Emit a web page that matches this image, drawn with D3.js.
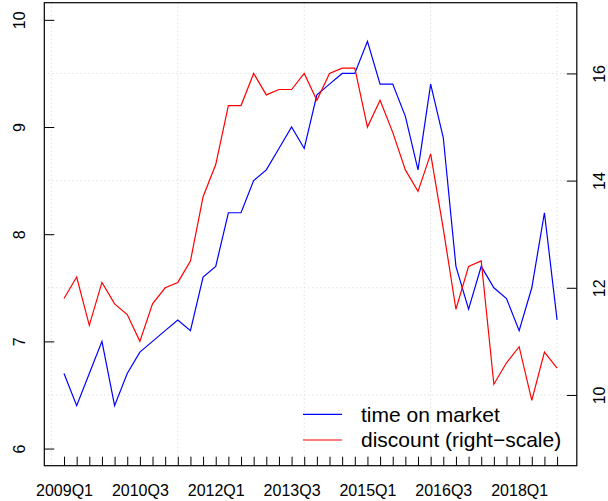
<!DOCTYPE html>
<html lang="en">
<head>
    <meta charset="UTF-8">
    <title>Time on market vs discount</title>
    <script src="https://d3js.org/d3.v7.min.js"></script>
    <style>
        body {
            margin: 0;
            background: #fff;
        }
        svg {
            display: block;
            font-family: "Liberation Sans", Arial, sans-serif;
        }
        .grid line {
            stroke: #d3d3d3;
            stroke-dasharray: 1 3;
        }
        .line {
            fill: none;
            stroke-width: 1.2px;
        }
    </style>
</head>
<body>
    <svg width="608" height="501"></svg>
    <script>
        // quarter labels, one per point
        const quarters = [
            "2009Q1","2009Q2","2009Q3","2009Q4","2010Q1","2010Q2","2010Q3","2010Q4",
            "2011Q1","2011Q2","2011Q3","2011Q4","2012Q1","2012Q2","2012Q3","2012Q4",
            "2013Q1","2013Q2","2013Q3","2013Q4","2014Q1","2014Q2","2014Q3","2014Q4",
            "2015Q1","2015Q2","2015Q3","2015Q4","2016Q1","2016Q2","2016Q3","2016Q4",
            "2017Q1","2017Q2","2017Q3","2017Q4","2018Q1","2018Q2","2018Q3","2018Q4"
        ];
        const timeOnMarket = [
            6.7, 6.4, 6.7, 7.0, 6.4, 6.7, 6.9, 7.0, 7.1, 7.2,
            7.1, 7.6, 7.7, 8.2, 8.2, 8.5, 8.6, 8.8, 9.0, 8.8,
            9.3, 9.4, 9.5, 9.5, 9.8, 9.4, 9.4, 9.1, 8.6, 9.4,
            8.9, 7.7, 7.3, 7.7, 7.5, 7.4, 7.1, 7.5, 8.2, 7.2
        ];
        const discount = [
            11.8, 12.2, 11.3, 12.1, 11.7, 11.5, 11.0, 11.7, 12.0, 12.1,
            12.5, 13.7, 14.3, 15.4, 15.4, 16.0, 15.6, 15.7, 15.7, 16.0,
            15.5, 16.0, 16.1, 16.1, 15.0, 15.5, 14.9, 14.2, 13.8, 14.5,
            13.1, 11.6, 12.4, 12.5, 10.2, 10.6, 10.9, 9.9, 10.8, 10.5
        ];
        const leftTicks = [6, 7, 8, 9, 10];
        const rightTicks = [10, 12, 14, 16];
        const gridX = [0, 10, 20, 30, 40];
        const labelEvery = 6;
        const seriesNames = ["time on market", "discount (right\u2212scale)"];
        const seriesColors = ["#0000ff", "#ff0000"];

        const svg = d3.select("svg"),
            plot = {left: 44.3, right: 576.8, top: 2.7, bottom: 465.7};

        const idx = quarters.map((q, i) => i + 1);

        const x = d3.scaleLinear().domain([-0.56, 41.56]).range([plot.left, plot.right]);
        const yL = d3.scaleLinear().domain([5.84, 10.16]).range([plot.bottom, plot.top]);
        const yR = d3.scaleLinear().domain([8.68, 17.32]).range([plot.bottom, plot.top]);

        // dotted grid (drawn on the second plot's coordinates)
        const grid = svg.append("g").attr("class", "grid");
        grid.selectAll(".gx").data(gridX).enter().append("line")
            .attr("x1", d => x(d)).attr("x2", d => x(d))
            .attr("y1", plot.top).attr("y2", plot.bottom);
        grid.selectAll(".gy").data(rightTicks).enter().append("line")
            .attr("x1", plot.left).attr("x2", plot.right)
            .attr("y1", d => yR(d)).attr("y2", d => yR(d));

        // lines
        const lineL = d3.line().x((d, i) => x(idx[i])).y(d => yL(d));
        const lineR = d3.line().x((d, i) => x(idx[i])).y(d => yR(d));

        svg.append("path").datum(timeOnMarket)
            .attr("class", "line").style("stroke", seriesColors[0]).attr("d", lineL);
        svg.append("path").datum(discount)
            .attr("class", "line").style("stroke", seriesColors[1]).attr("d", lineR);

        // box
        svg.append("rect")
            .attr("x", plot.left).attr("y", plot.top)
            .attr("width", plot.right - plot.left).attr("height", plot.bottom - plot.top)
            .attr("fill", "none").attr("stroke", "#000").attr("stroke-width", 1.2);

        // left axis, ticks inward, labels rotated
        const axL = d3.axisLeft(yL).tickValues(leftTicks).tickFormat(d3.format("d"))
            .tickSizeInner(-10).tickSizeOuter(0).tickPadding(0);
        const gL = svg.append("g").attr("transform", `translate(${plot.left},0)`).call(axL);
        gL.select(".domain").remove();
        gL.selectAll(".tick line").attr("stroke", "#000");
        gL.selectAll(".tick text")
            .attr("x", null).attr("dy", null)
            .attr("font-size", 16).attr("font-family", "Liberation Sans, Arial, sans-serif")
            .attr("text-anchor", "middle")
            .attr("transform", "translate(-25,0) rotate(-90)")
            .attr("y", 0).attr("dy", "0.35em").attr("fill", "#000");

        // right axis
        const axR = d3.axisRight(yR).tickValues(rightTicks).tickFormat(d3.format("d"))
            .tickSizeInner(-10).tickSizeOuter(0).tickPadding(0);
        const gR = svg.append("g").attr("transform", `translate(${plot.right},0)`).call(axR);
        gR.select(".domain").remove();
        gR.selectAll(".tick line").attr("stroke", "#000");
        gR.selectAll(".tick text")
            .attr("x", null).attr("dy", null)
            .attr("font-size", 16).attr("font-family", "Liberation Sans, Arial, sans-serif")
            .attr("text-anchor", "middle")
            .attr("transform", "translate(23,0) rotate(-90)")
            .attr("y", 0).attr("dy", "0.35em").attr("fill", "#000");

        // bottom axis: a tick per quarter, label every 6th
        const axB = d3.axisBottom(x).tickValues(idx).tickSizeInner(-9).tickSizeOuter(0).tickPadding(0)
            .tickFormat(d => (d - 1) % labelEvery === 0 ? quarters[d - 1] : "");
        const gB = svg.append("g").attr("transform", `translate(0,${plot.bottom})`).call(axB);
        gB.select(".domain").remove();
        gB.selectAll(".tick line").attr("stroke", "#000");
        gB.selectAll(".tick text")
            .attr("y", 25).attr("dy", "0.35em")
            .attr("font-size", 16).attr("font-family", "Liberation Sans, Arial, sans-serif")
            .attr("fill", "#000");

        // legend (no box)
        const legend = svg.append("g").selectAll("g")
            .data(seriesNames)
            .enter().append("g")
            .attr("transform", (d, i) => `translate(303,${414.3 + i * 25.7})`);
        legend.append("line")
            .attr("x1", 0).attr("x2", 39)
            .attr("stroke", (d, i) => seriesColors[i]).attr("stroke-width", 1.2);
        legend.append("text")
            .attr("x", 58).attr("dy", "0.35em")
            .attr("font-size", 21).attr("font-family", "Liberation Sans, Arial, sans-serif")
            .text(d => d);
    </script>
</body>
</html>
